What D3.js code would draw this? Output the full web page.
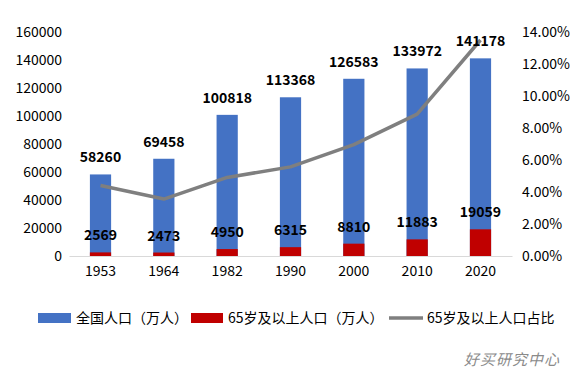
<!DOCTYPE html>
<html><head><meta charset="utf-8">
<script src="https://cdn.jsdelivr.net/npm/d3@7"></script>
<style>
body{margin:0;background:#fff;}
text{font-family:"Noto Sans CJK SC","Noto Sans",sans-serif;}
</style></head>
<body><svg id="c" width="583" height="376"></svg>
<script>
const years = ["1953","1964","1982","1990","2000","2010","2020"];
const totalPop = [58260,69458,100818,113368,126583,133972,141178];
const elderPop = [2569,2473,4950,6315,8810,11883,19059];
const elderRatio = [4.41,3.56,4.91,5.57,6.96,8.87,13.50];
const leftTicks = [0,20000,40000,60000,80000,100000,120000,140000,160000];
const rightTicks = [0,2,4,6,8,10,12,14];
const legendLabels = ["全国人口（万人）","65岁及以上人口（万人）","65岁及以上人口占比"];

const svg = d3.select("#c");
const x = d3.scaleBand().domain(years).range([69,512]).paddingInner(0.665).paddingOuter(0.33);
const y = d3.scaleLinear().domain([0,160000]).range([256,32]);
const y2 = d3.scaleLinear().domain([0,14]).range([256,32]);

// left axis
const la = svg.append("g").attr("transform","translate(62,0)")
  .call(d3.axisLeft(y).tickValues(leftTicks).tickSize(0).tickPadding(0).tickFormat(d3.format("d")));
la.select(".domain").remove();
la.selectAll("text").attr("font-size",14).attr("fill","#000").style("font-family",'"Noto Sans CJK SC"').attr("dy","0.35em");

// right axis
const ra = svg.append("g").attr("transform","translate(522,0)")
  .call(d3.axisRight(y2).tickValues(rightTicks).tickSize(0).tickPadding(0).tickFormat(d=>d.toFixed(2)+"%"));
ra.select(".domain").remove();
ra.selectAll("text").attr("font-size",14).attr("fill","#000").style("font-family",'"Noto Sans CJK SC"').attr("dy","0.35em");

// bottom axis
const ba = svg.append("g").attr("transform","translate(0,256)")
  .call(d3.axisBottom(x).tickSize(0).tickPadding(10));
ba.select(".domain").attr("stroke","#d9d9d9").attr("stroke-width",1.2);
ba.selectAll("text").attr("font-size",14).attr("fill","#000").style("font-family",'"Noto Sans CJK SC"');

// bars
svg.append("g").selectAll("rect").data(years).join("rect")
  .attr("x",d=>x(d)).attr("width",x.bandwidth())
  .attr("y",(d,i)=>y(totalPop[i])).attr("height",(d,i)=>y(0)-y(totalPop[i]))
  .attr("fill","#4472C4");
svg.append("g").selectAll("rect").data(years).join("rect")
  .attr("x",d=>x(d)).attr("width",x.bandwidth())
  .attr("y",(d,i)=>y(elderPop[i])).attr("height",(d,i)=>y(0)-y(elderPop[i]))
  .attr("fill","#C00000");

// line
const line = d3.line().x((d,i)=>x(years[i])+x.bandwidth()/2).y(d=>y2(d));
svg.append("path").datum(elderRatio).attr("d",line)
  .attr("fill","none").attr("stroke","#7F7F7F").attr("stroke-width",3.5).attr("stroke-linejoin","round");

// labels
const lab = svg.append("g").attr("font-size",14).attr("font-weight","bold").attr("text-anchor","middle").attr("fill","#000");
lab.selectAll("text.t").data(years).join("text").attr("class","t")
  .attr("x",d=>x(d)+x.bandwidth()/2).attr("y",(d,i)=>y(totalPop[i])-12).text((d,i)=>totalPop[i]);
lab.selectAll("text.e").data(years).join("text").attr("class","e")
  .attr("x",d=>x(d)+x.bandwidth()/2).attr("y",(d,i)=>y(elderPop[i])-12).text((d,i)=>elderPop[i]);

// legend
const lg = svg.append("g").attr("font-size",14).attr("fill","#000");
lg.append("rect").attr("x",38).attr("y",313).attr("width",33).attr("height",10).attr("fill","#4472C4");
lg.append("text").attr("x",76).attr("y",323).text(legendLabels[0]);
lg.append("rect").attr("x",191).attr("y",313).attr("width",32).attr("height",10).attr("fill","#C00000");
lg.append("text").attr("x",228).attr("y",323).text(legendLabels[1]);
lg.append("line").attr("x1",389).attr("x2",423).attr("y1",318).attr("y2",318).attr("stroke","#7F7F7F").attr("stroke-width",3.5);
lg.append("text").attr("x",427).attr("y",323).text(legendLabels[2]);

// watermark
svg.append("text").attr("x",560).attr("y",365).attr("text-anchor","end")
  .attr("font-size",15).attr("font-style","italic").attr("fill","#8a8a8a").attr("letter-spacing",1)
  .text("好买研究中心");
</script></body></html>
